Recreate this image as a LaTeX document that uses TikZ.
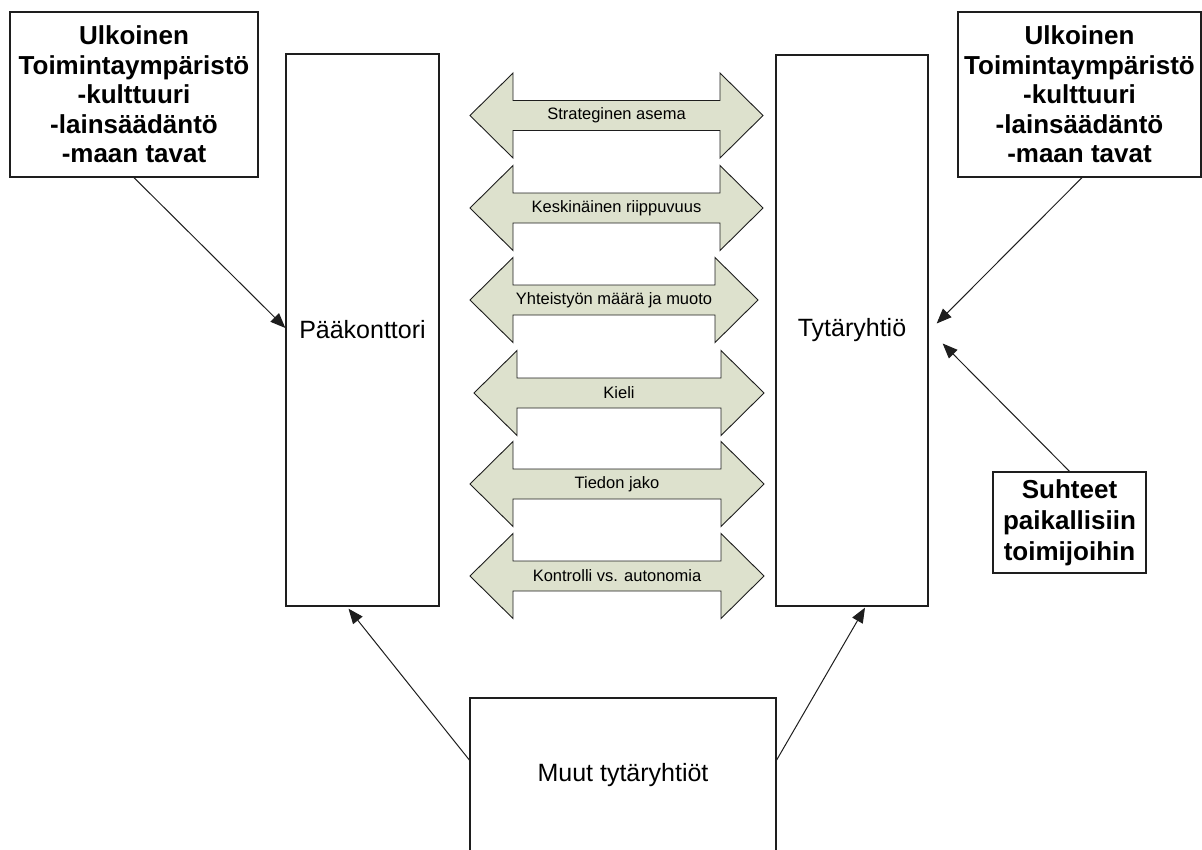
\documentclass[tikz,border=0pt]{standalone}
\usepackage{fontspec}
\setmainfont{Liberation Sans}
\usetikzlibrary{arrows.meta,calc}

\definecolor{arrowgreen}{RGB}{221,225,205}
\definecolor{edge}{RGB}{30,30,30}

\tikzset{
  box/.style={draw=edge, line width=1.3pt, fill=white, inner sep=0pt, align=center},
  bigbox/.style={box, font=\fontsize{25}{29}\selectfont},
  envbox/.style={box, font=\fontsize{26}{29.5}\selectfont\bfseries},
  localbox/.style={box, font=\fontsize{26}{31}\selectfont\bfseries},
  arrowfill/.style={draw=edge, line width=0.9pt, fill=arrowgreen, line join=miter},
  lbl/.style={inner sep=0pt, font=\fontsize{16.5}{19}\selectfont},
  link/.style={draw=edge, line width=1pt, -{Triangle[length=15pt,width=12pt]}}
}

% double-headed block arrow: name, centre y, left tip x, right tip x, label
\newcommand\dblarrow[5]{%
  \draw[arrowfill] (#3,#2) -- (#3+43,#2-42.5) -- (#3+43,#2-15) -- (#4-43,#2-15)
    -- (#4-43,#2-42.5) -- (#4,#2) -- (#4-43,#2+42.5) -- (#4-43,#2+15)
    -- (#3+43,#2+15) -- (#3+43,#2+42.5) -- cycle;
  \node[lbl] (#1) at ({(#3+#4)/2},#2) {#5};}

\begin{document}
\begin{tikzpicture}[x=1pt,y=-1pt]
\useasboundingbox (0,0) rectangle (1202,849);

% main units
\node[bigbox, minimum width=153pt, minimum height=552pt] (pk) at (362.5,330) {Pääkonttori};
\node[bigbox, minimum width=152pt, minimum height=551pt] (ty) at (852,330.5) {Tytäryhtiö};
\node[bigbox, minimum width=306pt, minimum height=154pt] (mu) at (623,775) {Muut tytäryhtiöt};

% environments
\node[envbox, minimum width=248pt, minimum height=165pt] (envL) at (134,94.5)
  {Ulkoinen\\Toimintaympäristö\\-kulttuuri\\-lainsäädäntö\\-maan tavat};
\node[envbox, minimum width=243pt, minimum height=165pt] (envR) at (1079.5,94.5)
  {Ulkoinen\\Toimintaympäristö\\-kulttuuri\\-lainsäädäntö\\-maan tavat};
\node[localbox, minimum width=153pt, minimum height=101pt] (sh) at (1069.5,522.5)
  {Suhteet\\paikallisiin\\toimijoihin};

% relations between headquarters and subsidiary
\dblarrow{a1}{115.5}{470}{763}{Strateginen asema}
\dblarrow{a2}{208}{470}{763}{Keskinäinen riippuvuus}
\dblarrow{a3}{300}{470}{758}{Yhteistyön määrä ja muoto}
\dblarrow{a4}{393}{474}{764}{Kieli}
\dblarrow{a5}{484}{470}{764}{Tiedon jako}
\dblarrow{a6}{576}{470}{764}{Kontrolli vs. autonomia}

% influences
\draw[link] (envL.south) -- ($(pk.west)+(0,-2)$);
\draw[link] ($(envR.south)+(2.5,0)$) -- ($(ty.east)+(8,-7)$);
\draw[link] (sh.north) -- ($(ty.east)+(14,13)$);
\draw[link] ($(mu.west)+(0,-15)$) -- ($(pk.south)+(-14,2)$);
\draw[link] ($(mu.east)+(0,-15)$) -- ($(ty.south)+(13,1)$);
\end{tikzpicture}
\end{document}
